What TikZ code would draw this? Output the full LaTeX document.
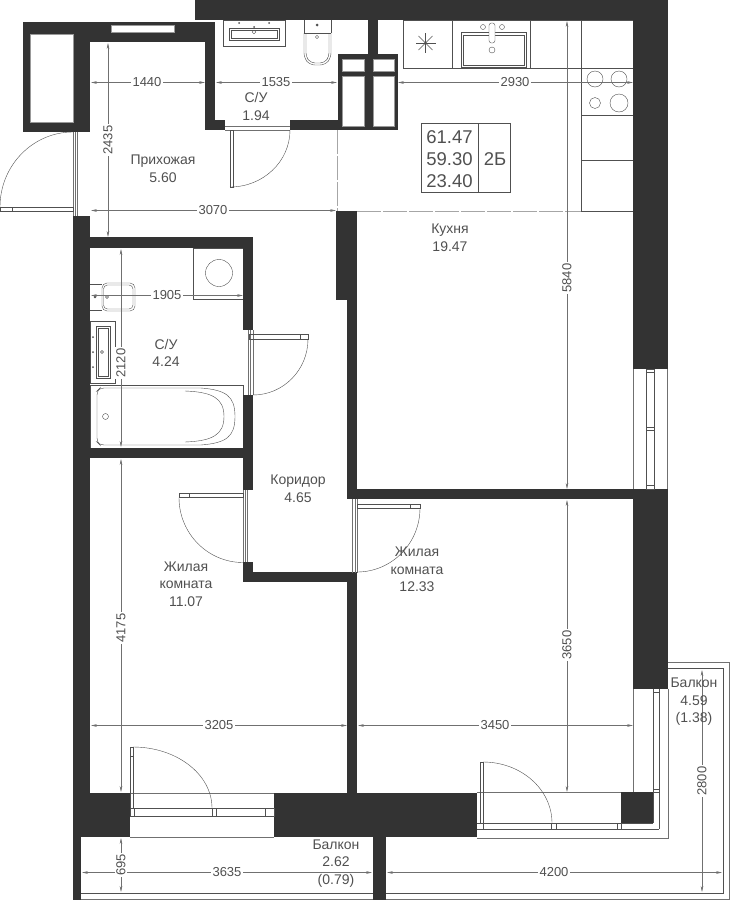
\documentclass[tikz,border=0pt]{standalone}
\usepackage{fontspec}
\setmainfont{Liberation Sans}
\usetikzlibrary{arrows.meta}
\definecolor{wallgrey}{HTML}{333333}
\definecolor{inkgrey}{HTML}{505050}
\definecolor{dimgrey}{HTML}{707070}
\tikzset{
  wall/.style={fill=wallgrey},
  fitting/.style={draw=inkgrey,line width=0.4pt},
  glazing/.style={draw=dimgrey,line width=0.6pt},
  openline/.style={draw=black!35,line width=0.5pt,dash pattern=on 24pt off 2pt},
  dimline/.style={draw=dimgrey,line width=0.45pt,{Stealth[length=6pt,width=2.6pt]}-{Stealth[length=6pt,width=2.6pt]}},
  dimtext/.style={fill=white,inner sep=1.2pt,text=inkgrey,font=\fontsize{13}{14}\selectfont},
  roomtext/.style={align=center,inner sep=0pt,text=inkgrey,font=\fontsize{14}{17.6}\selectfont},
  infotext/.style={inner sep=0pt,text=inkgrey,font=\fontsize{18.5}{22}\selectfont},
}
\begin{document}
\begin{tikzpicture}[x=1pt,y=-1pt]
    \useasboundingbox (0,0) rectangle (744,900);

    %KITCHEN UNITS
    \draw[fitting] (403,20) rectangle (633,68);
    \draw[fitting] (581,20) rectangle (633,211);
    \foreach \x in {452,530}{
        \draw[fitting] (\x,20) -- (\x,68);
    }
    \foreach \y in {115,160}{
        \draw[fitting] (581,\y) -- (633,\y);
    }
    \foreach \x/\y/\r in {595/79/8,619/79/8,595/103/5.5,619/103/9}{
        \draw[fitting] (\x,\y) circle (\r pt);
    }
    \draw[fitting] (461,32) rectangle (526,67);
    \draw[fitting] (463,35) rectangle (524,65);
    \draw[fitting,rounded corners=2.5pt,fill=white] (489,23) rectangle (495,43);
    \foreach \x/\y/\r in {483/27/2.5,502/27/2.5,492/50/3}{
        \draw[fitting] (\x,\y) circle (\r pt);
    }
    \foreach \a in {0,45,...,315}{
        \draw[fitting] (425.5,43) -- ++(\a:10pt);
    }
    \fill[inkgrey] (425.5,43) circle (1.3pt);

    %TOP BATHROOM FITTINGS
    \draw[fitting] (223.5,20) rectangle (285,46);
    \draw[fitting] (229,28) rectangle (279,40);
    \draw[fitting] (231,30) rectangle (277,38);
    \draw[fitting] (254,32) circle (1.8pt);
    \foreach \x/\y in {239/23,269/23,254/27}{
        \fill[inkgrey] (\x,\y) circle (1pt);
    }
    \draw[fitting,rounded corners=5pt] (304,33) -- (304,58) -- (310,65) -- (325,65) -- (331,58) -- (331,33);
    \draw[fitting,rounded corners=4pt] (306,33) -- (306,57) -- (311,63) -- (324,63) -- (329,57) -- (329,33);
    \draw[fitting] (304,33) -- (304,20) (331,20) -- (331,33) (304,33) -- (331,33);
    \draw[fitting] (317,37) circle (1.6pt);
    \fill[inkgrey] (317,25) circle (1.5pt);

    %LOWER BATHROOM FITTINGS
    \draw[fitting] (193.5,248) rectangle (243,299);
    \draw[fitting] (219,273) circle (13.5pt);
    \draw[fitting] (90,284) -- (102,284) (90,310) -- (102,310);
    \draw[fitting,rounded corners=5pt] (102,283) rectangle (135,311);
    \draw[fitting,rounded corners=4pt] (103.5,285) rectangle (133,309);
    \draw[fitting] (107,297) circle (1.5pt);
    \fill[inkgrey] (95,297) circle (1.3pt);
    \draw[fitting] (90,321) rectangle (115.5,383);
    \draw[fitting] (96,326) rectangle (110.5,378);
    \draw[fitting] (98,328) rectangle (108.5,376);
    \draw[fitting] (102,352) circle (1.5pt);
    \foreach \y in {337,352,367}{
        \fill[inkgrey] (93,\y) circle (1pt);
    }
    \draw[fitting] (90,385) rectangle (243,448);
    \draw[fitting,rounded corners=4pt] (201,388) -- (100,388) -- (97,391) -- (97,442) -- (100,445) -- (201,445);
    \draw[fitting] (201,388) .. controls (226,390) and (235,396) .. (235,416.5) .. controls (235,437) and (226,443) .. (201,445);
    \draw[fitting] (185,391) .. controls (212,392) and (224,398) .. (224,416.5) .. controls (224,435) and (212,441) .. (185,442);
    \draw[fitting] (105.5,416.5) circle (3pt);

    %WALLS
    \foreach \xa/\ya/\xb/\yb in {195/0/668/20,23/22/215/42,23/22/90/132,205/42/215/130,205/120/225/130,
        290/120/338/130,338/54/398/130,368/20/378/54,336/211/357/300,347/300/357/499,347/489/633/499,
        633/0/668/369,633/489/668/689,73/216/90/793,73/237/253/248,73/448/253/458,243/237/253/330,
        243/395/253/490,243/562/253/582,243/572/357/582,347/573/357/793,73/793/130/837,274/793/477/837,
        621/792/653/823,73/837/81/900,373/837/386/900}{
        \fill[wall] (\xa,\ya) rectangle (\xb,\yb);
    }
    %OPENINGS IN THE WALLS
    \foreach \xa/\ya/\xb/\yb in {30/34/73/122,111/25/174/32,342/59/364/71,373/59/394/71,342/76/364/126,373/76/394/126}{
        \fill[white] (\xa,\ya) rectangle (\xb,\yb);
        \draw[fitting,draw=black!40] (\xa,\ya) rectangle (\xb,\yb);
    }

    %DOORS
    \draw[glazing] (73.5,132) -- (73.5,216) (75.5,132) -- (75.5,216) (77.5,132) -- (77.5,216);
    \draw[fitting] (0,207) rectangle (73,211) (12,207) -- (12,211);
    \draw[fitting] (73,132) arc[start angle=90,end angle=180,x radius=73pt,y radius=75pt];

    \draw[glazing] (225,126) -- (290,126) (225,130) -- (290,130);
    \draw[fitting] (230,130) rectangle (233,187);
    \draw[fitting] (230,187) arc[start angle=270,end angle=360,x radius=60pt,y radius=57pt];

    \draw[glazing] (248.5,330) -- (248.5,395) (250.5,330) -- (250.5,395) (253,330) -- (253,395);
    \draw[fitting] (249,334) rectangle (308,339) (300,334) -- (300,339);
    \draw[fitting] (308,339) arc[start angle=0,end angle=-90,x radius=55pt,y radius=56pt];

    \draw[glazing] (243.5,490) -- (243.5,562) (245.5,490) -- (245.5,562) (247.5,490) -- (247.5,562);
    \draw[fitting] (179,493.5) rectangle (243,497.5) (189,493.5) -- (189,497.5);
    \draw[fitting] (179,497.5) arc[start angle=180,end angle=270,x radius=64pt,y radius=65pt];

    \draw[glazing] (352.5,499) -- (352.5,573) (355,499) -- (355,573) (357,499) -- (357,573);
    \draw[fitting] (357,504) rectangle (420,508) (410,504) -- (410,508);
    \draw[fitting] (420,508) arc[start angle=0,end angle=-90,x radius=63pt,y radius=64pt];

    %BALCONY DOOR LEFT
    \draw[glazing] (130,793) -- (274,793) (130,837) -- (274,837);
    \draw[fitting] (130,808) rectangle (274,816);
    \foreach \x in {134.5,212,216.5,265}{
        \draw[fitting] (\x,808) -- (\x,816);
    }
    \draw[fitting] (130,747) rectangle (133,808) (130,756) -- (133,756);
    \draw[fitting] (133,747) arc[start angle=90,end angle=0,x radius=79pt,y radius=61pt];

    %BALCONY DOOR RIGHT AND WINDOWS
    \draw[glazing] (477,792) -- (621,792) (633,689) -- (633,792);
    \draw[fitting] (477,823) -- (653,823) (477,829) -- (659,829) (653,689) -- (653,823) (659,689) -- (659,829);
    \foreach \x in {483,551,556,617,621}{
        \draw[fitting] (\x,823) -- (\x,829);
    }
    \foreach \y in {692,789,792}{
        \draw[fitting] (653,\y) -- (659,\y);
    }
    \draw[fitting] (480,762) rectangle (483,823);
    \draw[fitting] (483,762) arc[start angle=90,end angle=0,x radius=69pt,y radius=61pt];
    \draw[glazing] (633.5,369) -- (633.5,489) (667.5,369) -- (667.5,489);
    \draw[fitting] (646,369) rectangle (654,489);
    \foreach \y in {372,427,430,485}{
        \draw[fitting] (646,\y) -- (654,\y);
    }

    %BALCONY OUTLINE
    \draw[glazing] (668,689) -- (668,838) -- (477,838);
    \draw[glazing] (668,662) -- (729.5,662) -- (729.5,899) -- (386,899) (373,899) -- (81,899);
    \draw[fitting] (668,668) -- (723,668) -- (723,893) -- (386,893) (373,893) -- (81,893);

    %ZONE LINES
    \draw[openline] (337,130) -- (337,211);
    \draw[openline] (357,211) -- (581,211);

    %DIMENSIONS ACROSS
    \foreach \xa/\xb/\y/\xl/\txt [count=\i] in {91/205/82.5/147/1440,216/337/82.5/276/1535,398/633/82.5/515/2930,
        91/336/210.5/213/3070,91/243/295.5/167/1905,91/347/725.5/219/3205,358/633/725.5/495/3450,
        82/372/872.5/227/3635,387/722/872.5/554/4200}{
        \coordinate (across\i a) at (\xa,\y);
        \coordinate (across\i b) at (\xb,\y);
        \draw[dimline] (across\i a) -- (across\i b);
        \node[dimtext] (acrosslabel\i) at (\xl,\y) {\txt};
    }
    %DIMENSIONS ALONG
    \foreach \x/\ya/\yb/\yl/\txt [count=\i] in {108/43/237/140/2435,567/21/489/278/5840,121/249/447/363/2120,
        121/459/792/628/4175,567/500/792/645/3650,121/838/892/865/695,702/670/892/781/2800}{
        \coordinate (along\i a) at (\x,\ya);
        \coordinate (along\i b) at (\x,\yb);
        \draw[dimline] (along\i a) -- (along\i b);
        \node[dimtext,rotate=90] (alonglabel\i) at (\x,\yl) {\txt};
    }

    %INFO TABLE
    \draw[fitting] (421,123) rectangle (510,192) (478,123) -- (478,192);
    \foreach \y/\txt [count=\i] in {137/61.47,159/59.30,181/23.40}{
        \node[infotext] (info\i) at (449.5,\y) {\txt};
    }
    \node[infotext] (flattype) at (495,159) {2Б};

    %ROOMS
    \node[roomtext] (wcsmall) at (256,106.5) {С/У\\1.94};
    \node[roomtext] (hall) at (163,168.5) {Прихожая\\5.60};
    \node[roomtext] (kitchen) at (450,237.5) {Кухня\\19.47};
    \node[roomtext] (wcbig) at (166,353) {С/У\\4.24};
    \node[roomtext] (corridor) at (298,488.5) {Коридор\\4.65};
    \node[roomtext] (roomleft) at (186,584) {Жилая\\комната\\11.07};
    \node[roomtext] (roomright) at (417,569.5) {Жилая\\комната\\12.33};
    \node[roomtext] (balconyfront) at (336,863.5) {Балкон\\2.62\\(0.79)};
    \node[roomtext] (balconyside) at (694,702) {Балкон\\4.59\\(1.38)};
\end{tikzpicture}
\end{document}
